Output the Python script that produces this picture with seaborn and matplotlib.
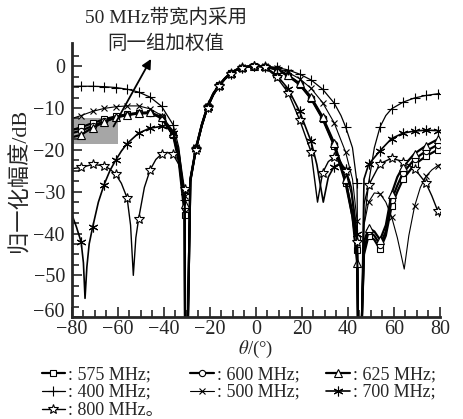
import numpy as np
import matplotlib
matplotlib.use("Agg")
import matplotlib.pyplot as plt
import matplotlib.transforms as mtransforms
import seaborn as sns

# curves (theta in degrees, gain in dB)
th_575 = [-80, -76, -71, -66, -61, -56, -51, -46, -41, -36, -33.5, -31, -30.8, -29.6, -28.5, -26, -23.5, -21, -18.5, -16,
          -13.5, -11, -8.5, -6, -3.5, -1, 1.5, 4, 9, 14, 19, 24, 29, 34, 39, 42, 44, 44.4, 46, 47, 49, 51.5, 54, 56.5,
          59, 61.5, 64, 69, 74, 79, 80]
db_575 = [-15.3, -14.6, -13.6, -12.7, -12.0, -11.5, -11.2, -11.2, -12.4, -16.5, -23, -35.5, -62, -62, -27.5, -19.6, -14.1,
          -9.7, -6.7, -4.6, -3.0, -1.7, -0.9, -0.35, -0.1, 0, 0, -0.1, -0.8, -2.3, -4.4, -7.8, -12.6, -19, -28, -36, -44,
          -62, -62, -45, -40.5, -41.5, -43.8, -40.5, -33.5, -30, -27, -23.5, -21.5, -20, -19.8]

th_600 = [-80, -76, -71, -66, -61, -56, -51, -46, -41, -36, -33.5, -31, -30.8, -29.6, -28.5, -26, -23.5, -21, -18.5, -16,
          -13.5, -11, -8.5, -6, -3.5, -1, 1.5, 4, 9, 14, 19, 24, 29, 34, 39, 42, 44, 44.4, 46, 47, 49, 51.5, 54, 56.5,
          59, 61.5, 64, 69, 74, 79, 80]
db_600 = [-16, -15.4, -14.3, -13.2, -12.3, -11.7, -11.3, -11.2, -12.3, -16.3, -22, -33.8, -62, -62, -27.3, -19.5, -14.0,
          -9.6, -6.6, -4.6, -3.0, -1.7, -0.9, -0.35, -0.1, 0, 0, -0.1, -0.75, -2.2, -4.3, -7.6, -12.4, -18.7, -27.5, -35,
          -41, -62, -62, -44, -39.5, -40.5, -42.7, -39.5, -32, -28.5, -25.5, -22.2, -20.3, -18.8, -18.6]

th_625 = [-80, -76, -71, -66, -61, -56, -51, -46, -41, -36, -33.5, -31, -30.8, -29.6, -28.5, -26, -23.5, -21, -18.5, -16,
          -13.5, -11, -8.5, -6, -3.5, -1, 1.5, 4, 9, 14, 19, 24, 29, 34, 39, 42, 44, 44.4, 46, 47, 49, 51.5, 54, 56.5,
          59, 61.5, 64, 69, 74, 79, 80]
db_625 = [-17, -16.4, -14.7, -13.4, -12.2, -11.6, -11.2, -11.0, -12.2, -16, -21.5, -33, -62, -62, -27, -19.4, -13.9,
          -9.5, -6.5, -4.5, -2.9, -1.6, -0.85, -0.3, -0.1, 0, 0, -0.05, -0.7, -2.2, -4.1, -7.4, -12.1, -18.3, -27, -36,
          -47, -62, -62, -42, -38.7, -39.5, -41.5, -38, -30.5, -26.5, -24, -20.9, -19, -17.5, -17.3]

th_400 = [-80, -76, -71, -66, -61, -56, -51, -46, -41, -36, -33.5, -31, -30.8, -29.6, -28.5, -26, -23.5, -21, -18.5, -16,
          -13.5, -11, -8.5, -6, -3.5, -1, 1.5, 4, 9, 14, 19, 24, 29, 34, 37, 39, 42, 44, 44.4, 46, 47, 49, 51.5, 54,
          56.5, 59, 64, 69, 74, 79, 80]
db_400 = [-4.8, -4.8, -4.8, -4.9, -5.1, -5.5, -6.2, -7.4, -9.6, -14, -19.5, -32, -62, -62, -26.5, -19.3, -13.8, -9.4,
          -6.5, -4.5, -2.9, -1.6, -0.8, -0.3, -0.05, 0, 0, 0, -0.3, -0.9, -1.9, -3.3, -5.5, -8.8, -11.8, -14.5, -19.5,
          -28, -62, -62, -38, -28, -19.5, -14.5, -11.8, -10.2, -8.6, -7.6, -7.0, -6.6, -6.5]

th_500 = [-80, -76, -71, -66, -61, -56, -51, -46, -41, -36, -33.5, -31, -30.8, -29.6, -28.5, -26, -23.5, -21, -18.5, -16,
          -13.5, -11, -8.5, -6, -3.5, -1, 1.5, 4, 9, 14, 19, 24, 29, 34, 39, 42, 44, 44.4, 46, 47, 49, 51.5, 54, 56.5,
          59, 61.5, 64.5, 66.5, 69, 71.5, 74, 76.5, 79, 80]
db_500 = [-12.5, -11.8, -10.8, -10.1, -9.7, -9.5, -9.5, -10.2, -11.8, -15.5, -20.5, -31, -62, -62, -26.8, -19.4, -13.9,
          -9.5, -6.5, -4.5, -2.9, -1.6, -0.85, -0.3, -0.05, 0, 0, 0, -0.5, -1.5, -3.0, -5.3, -8.7, -13.5, -20.5, -27,
          -37, -62, -62, -38, -32.5, -30.3, -30.5, -32.5, -36, -41, -48.5, -40.5, -33.5, -29, -26.3, -24.8, -23.8, -23.5]

th_700 = [-80, -78, -76, -75, -74.3, -73.5, -72.5, -71, -68.5, -66, -63.5, -61, -58.5, -56, -51, -46, -41, -38.5, -36,
          -33.5, -31, -30.8, -29.6, -28.5, -26, -23.5, -21, -18.5, -16, -13.5, -11, -8.5, -6, -3.5, -1, 1.5, 4, 9, 14,
          19, 24, 26.5, 29.3, 31.5, 34, 36.5, 39, 41.5, 44, 44.4, 46, 47, 49, 54, 59, 64, 69, 74, 79, 80]
db_700 = [-35.5, -38.5, -42, -47, -55.5, -48, -42.5, -38.5, -32.5, -28.3, -25, -22.5, -20.3, -18.5, -16, -14.8, -14.4,
          -14.8, -16, -20.5, -30, -62, -62, -27.3, -19.7, -14.2, -9.8, -6.8, -4.7, -3.1, -1.8, -0.9, -0.35, -0.1, 0, 0,
          -0.2, -2.1, -5.4, -10.8, -18, -23.5, -32.5, -26.5, -24, -23.3, -24.5, -29, -40, -62, -62, -27, -23.5, -20.2,
          -17.3, -16, -15.5, -15.3, -15.4, -15.5]

th_800 = [-80, -76, -71, -66, -63.5, -61, -58.5, -56, -54.5, -53.3, -52.2, -51, -48.5, -46, -43.5, -41, -38.5, -36,
          -33.5, -31, -30.8, -29.6, -28.5, -26, -23.5, -21, -18.5, -16, -13.5, -11, -8.5, -6, -3.5, -1, 1.5, 4, 9, 14,
          19, 24, 26.8, 29, 31.5, 34, 36.5, 39, 41.5, 44, 44.4, 46, 47, 49, 54, 59, 64, 69, 74, 76.5, 79, 80]
db_800 = [-24.5, -24.2, -23.5, -23.8, -24.6, -25.8, -28, -31.5, -38, -50, -41, -36.5, -29, -24.8, -22.3, -21, -20.6,
          -21.1, -23.5, -29.3, -62, -62, -27.8, -20, -14.5, -10, -7, -4.8, -3.2, -1.9, -1.0, -0.4, -0.1, 0, 0, -0.3,
          -2.6, -6.3, -12.8, -20.5, -32.5, -25.5, -22.8, -21.8, -22.5, -25, -30.5, -42, -62, -62, -33, -28.5, -23.3,
          -22, -22.8, -24.5, -28, -31, -34.5, -36]

freqs = ["575", "600", "625", "400", "500", "700", "800"]
thetas = [th_575, th_600, th_625, th_400, th_500, th_700, th_800]
gains = [db_575, db_600, db_625, db_400, db_500, db_700, db_800]

# grey box marking the 50 MHz band region
box_theta = [-80, -60]
box_db = [-18.7, -12.5]

styles = {
    "575": dict(marker="s", ms=4.2, lw=1.6, mfc="white"),
    "600": dict(marker="o", ms=4.5, lw=1.6, mfc="white"),
    "625": dict(marker="^", ms=5.5, lw=1.6, mfc="white"),
    "400": dict(marker="+", ms=6.5, lw=0.9, mfc="k"),
    "500": dict(marker="x", ms=4.5, lw=0.8, mfc="k"),
    "700": dict(marker=(6, 2, 0), ms=7, lw=1.2, mfc="k"),
    "800": dict(marker="*", ms=7, lw=1.0, mfc="white"),
}

sns.set_style("ticks")
plt.rcParams["font.family"] = ["Liberation Serif", "Noto Sans CJK SC"]
plt.rcParams["mathtext.fontset"] = "stix"

fig = plt.figure(figsize=(4.64, 4.19), dpi=100)
ax = fig.add_axes([0.155, 0.243, 0.793, 0.654])

ax.fill_between(box_theta, box_db[0], box_db[1], color="#a6a6a6", lw=0, zorder=0.5)

handles = {}
for f, th, g in zip(freqs, thetas, gains):
    th = np.array(th, dtype=float)
    mask = np.isclose(np.mod(th + 76, 5), 0)
    st = styles[f]
    sns.lineplot(x=th, y=np.array(g, dtype=float), ax=ax, color="k", sort=False, estimator=None,
                 lw=st["lw"], marker=st["marker"], markersize=st["ms"], markevery=mask,
                 markerfacecolor=st["mfc"], markeredgecolor="k", markeredgewidth=0.8)
    handles[f] = ax.lines[-1]

ax.set_xlim(-80, 80)
ax.set_ylim(-60, 5.5)
ax.set_xticks(np.arange(-80, 81, 20))
ax.set_xticks(np.arange(-80, 81, 5), minor=True)
ax.set_yticks(np.arange(-60, 1, 10))
ax.set_yticks(np.arange(-60, 5, 2.5), minor=True)
ax.set_xticklabels([f"{v}".replace("-", "\u2212") for v in range(-80, 81, 20)])
ax.set_yticklabels([f"{v}".replace("-", "\u2212") for v in range(-60, 1, 10)])
ax.tick_params(which="both", direction="in", width=1.2, labelsize=14.5)
ax.tick_params(axis="x", pad=2)
ax.tick_params(axis="y", pad=5)
ax.tick_params(which="major", length=7)
ax.tick_params(which="minor", length=5)
for s in ["top", "right"]:
    ax.spines[s].set_visible(False)
for s in ["left", "bottom"]:
    ax.spines[s].set_linewidth(2)

# lift the bottom y label a little so it clears the first x label
lbl = ax.get_yticklabels()[0]
lbl.set_transform(lbl.get_transform() + mtransforms.ScaledTranslation(0, 5 / 72, fig.dpi_scale_trans))

ax.set_xlabel(r"$\theta$/(°)", fontsize=13.5)
ax.xaxis.set_label_coords(0.5, -0.078)
ax.set_ylabel("归一化幅度/dB", fontsize=16, labelpad=2)

ax.annotate("", xy=(-45, 2.3), xytext=(-62.5, -15), xycoords="data",
            arrowprops=dict(arrowstyle="-|>", color="k", lw=1.3, mutation_scale=14), annotation_clip=False)
fig.text(0.357, 0.958, "50 MHz带宽内采用", fontsize=14, ha="center", va="center")
fig.text(0.357, 0.895, "同一组加权值", fontsize=14, ha="center", va="center")

order = ["575", "400", "800", "600", "500", "625", "700"]
labels = {f: f": {f} MHz;" for f in freqs}
labels["800"] = ": 800 MHz。"
leg = fig.legend([handles[f] for f in order], [labels[f] for f in order], ncol=3, loc="upper left",
                 bbox_to_anchor=(0.07, 0.148), frameon=False, fontsize=13, handlelength=1.3,
                 handletextpad=0.15, columnspacing=1.5, labelspacing=0.05, borderpad=0)

fig.savefig("out.png", dpi=100)
